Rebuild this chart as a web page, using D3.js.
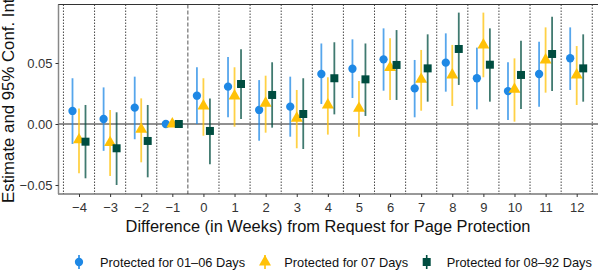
<!DOCTYPE html>
<html><head><meta charset="utf-8">
<script src="https://cdn.jsdelivr.net/npm/d3@7"></script>
<style>body{margin:0;background:#fff}svg{display:block}text{font-family:"Liberation Sans",Arial,sans-serif}</style>
</head><body>
<svg id="chart" width="598" height="278"></svg>
<script>
const weeks = [-4,-3,-2,-1,0,1,2,3,4,5,6,7,8,9,10,11,12];
const seriesNames = ["Protected for 01\u201306 Days","Protected for 07 Days","Protected for 08\u201392 Days"];
const seriesColors = ["#1E88E5","#FFC107","#004D40"];
const seriesShapes = ["circle","triangle","square"];
// estimates
const est1 = [0.0107,0.0041,0.0134,0,0.0232,0.0306,0.0115,0.0142,0.0410,0.0453,0.0530,0.0292,0.0503,0.0375,0.0270,0.0410,0.0539];
const est2 = [-0.0130,-0.0153,-0.0044,0,0.0148,0.0230,0.0170,0.0047,0.0156,0.0128,0.0462,0.0366,0.0402,0.0648,0.0284,0.0525,0.0402];
const est3 = [-0.0145,-0.0199,-0.0139,0,-0.0057,0.0328,0.0238,0.0082,0.0375,0.0366,0.0484,0.0456,0.0615,0.0486,0.0402,0.0574,0.0456];
// lower / upper 95% CI
const lo1 = [-0.0164,-0.0220,-0.0125,0,0.0000,0.0055,-0.0137,-0.0104,0.0164,0.0213,0.0273,0.0055,0.0265,0.0120,0.0033,0.0142,0.0279];
const hi1 = [0.0375,0.0300,0.0388,0,0.0465,0.0550,0.0360,0.0388,0.0660,0.0694,0.0784,0.0525,0.0743,0.0626,0.0506,0.0675,0.0792];
const lo2 = [-0.0404,-0.0426,-0.0314,0,-0.0096,-0.0022,-0.0071,-0.0199,-0.0087,-0.0104,0.0197,0.0109,0.0148,0.0383,0.0019,0.0257,0.0156];
const hi2 = [0.0128,0.0115,0.0210,0,0.0375,0.0465,0.0396,0.0279,0.0383,0.0352,0.0702,0.0607,0.0648,0.0913,0.0538,0.0792,0.0639];
const lo3 = [-0.0445,-0.0500,-0.0437,0,-0.0330,0.0041,-0.0030,-0.0205,0.0079,0.0066,0.0197,0.0183,0.0320,0.0183,0.0123,0.0270,0.0183];
const hi3 = [0.0156,0.0096,0.0156,0,0.0210,0.0612,0.0506,0.0375,0.0670,0.0660,0.0770,0.0735,0.0913,0.0784,0.0683,0.0880,0.0735];
const yTicks = [-0.05, 0, 0.05];

const ests=[est1,est2,est3], los=[lo1,lo2,lo3], his=[hi1,hi2,hi3];
const svg = d3.select("#chart");
const pL=58.5, pT=4.5, pR=599, pB=194;
const x = d3.scalePoint().domain(weeks).range([79, 576.7]);
const step = x.step();
const y = d3.scaleLinear().domain([-0.05, 0.05]).range([185, 63]);
const dodge = d3.scalePoint().domain([0,1,2]).range([-6.5, 6.5]);

// separators
const seps = weeks.map(w => ({w, pos: x(w) - step/2})).concat([{w:99, pos: x(12)+step/2}]);
svg.append("g").selectAll("line").data(seps).join("line")
  .attr("x1", d=>d.pos).attr("x2", d=>d.pos).attr("y1", pT).attr("y2", pB)
  .attr("stroke", d=> d.w===0 ? "#555" : "#333")
  .attr("stroke-width", d=> d.w===0 ? 1 : 0.9)
  .attr("stroke-dasharray", d=> d.w===0 ? "4,2" : "1.5,1.5");

// zero line
svg.append("line").attr("x1", pL).attr("x2", pR).attr("y1", y(0)).attr("y2", y(0))
  .attr("stroke", "#222").attr("stroke-width", 1);

const sym = {
  circle: d3.symbol().type(d3.symbolCircle).size(54),
  triangle: d3.symbol().type(d3.symbolTriangle).size(62),
  square: d3.symbol().type(d3.symbolSquare).size(64)
};

for (let s=0; s<3; s++) {
  const g = svg.append("g");
  const data = weeks.map((w,i)=>({w, e:ests[s][i], lo:los[s][i], hi:his[s][i]}));
  g.selectAll("line").data(data.filter(d=>d.hi!==d.lo)).join("line")
    .attr("x1", d=>x(d.w)+dodge(s)).attr("x2", d=>x(d.w)+dodge(s))
    .attr("y1", d=>y(d.lo)).attr("y2", d=>y(d.hi))
    .attr("stroke", seriesColors[s]).attr("stroke-opacity", 0.75).attr("stroke-width", 1.8);
  g.selectAll("path").data(data).join("path")
    .attr("d", sym[seriesShapes[s]])
    .attr("transform", d=>`translate(${x(d.w)+dodge(s)},${y(d.e)})`)
    .attr("fill", seriesColors[s]);
}

// border
svg.append("rect").attr("x", pL).attr("y", pT).attr("width", pR-pL).attr("height", pB-pT)
  .attr("fill","none").attr("stroke","#333").attr("stroke-width",1);
svg.append("line").attr("x1", pL).attr("x2", pL).attr("y1", pT).attr("y2", pB)
  .attr("stroke","#888").attr("stroke-width",1.5);

// axes
const fmt = v => (v<0?"\u2212":"") + Math.abs(v).toFixed(2);
const yAxis = svg.append("g").attr("transform",`translate(${pL},0)`)
  .call(d3.axisLeft(y).tickValues(yTicks).tickFormat(fmt).tickSize(3).tickPadding(3));
yAxis.select(".domain").remove();
yAxis.selectAll("text").attr("font-size", 13).attr("fill","#333");
yAxis.selectAll("line").attr("stroke","#333");

const xAxis = svg.append("g").attr("transform",`translate(0,${pB})`)
  .call(d3.axisBottom(x).tickFormat(d => (d<0?"\u2212":"") + Math.abs(d)).tickSize(3).tickPadding(5.5));
xAxis.select(".domain").remove();
xAxis.selectAll("text").attr("font-size", 13).attr("fill","#333");
xAxis.selectAll("line").attr("stroke","#333");

svg.append("text").attr("x", 328).attr("y", 232).attr("text-anchor","middle")
  .attr("font-size", 16.4).attr("fill","#111").text("Difference (in Weeks) from Request for Page Protection");
svg.append("text").attr("transform", `translate(14,${(pT+pB)/2 + 1.5}) rotate(-90)`).attr("text-anchor","middle")
  .attr("font-size", 16.8).attr("fill","#111").text("Estimate and 95% Conf. Int");

// legend
const legX = [79, 265, 426.7];
const legTextX = [100, 284.3, 446.7];
const legY = 262;
const leg = svg.append("g").selectAll("g").data(seriesNames).join("g")
  .attr("transform", (d,i)=>`translate(${legX[i]},${legY})`);
leg.append("line").attr("y1",-7).attr("y2",7).attr("stroke",(d,i)=>seriesColors[i]).attr("stroke-width",1.6);
leg.append("path").attr("d",(d,i)=>sym[seriesShapes[i]]()).attr("fill",(d,i)=>seriesColors[i]);
leg.append("text").attr("x", (d,i)=> legTextX[i]-legX[i]).attr("y", 4.8).attr("font-size", 12.8).attr("fill","#111").text(d=>d);
</script>
</body></html>
